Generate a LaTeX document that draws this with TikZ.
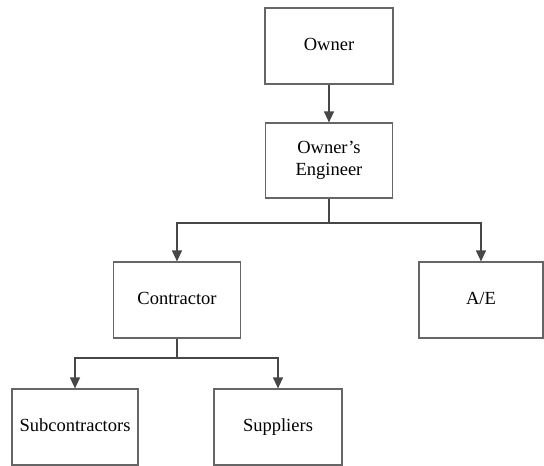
\documentclass[tikz,border=0pt]{standalone}
\usepackage{fontspec}
\setmainfont{Liberation Serif}
\usetikzlibrary{arrows.meta}
\begin{document}
\begin{tikzpicture}[x=1pt,y=-1pt,
  orgbox/.style={draw=black!60, line width=1.2pt, fill=white, minimum width=127pt,
    minimum height=76pt, align=center, inner sep=2pt,
    font=\fontsize{18.5}{22}\selectfont},
  link/.style={draw=black!72, line width=1.2pt},
  linkarrow/.style={link, -{Triangle[length=11pt,width=10pt]}}]
  \useasboundingbox (0,0) rectangle (544,466);
  % boxes
  \node[orgbox, minimum width=128pt] (owner) at (329,46) {\strut Owner};
  \node[orgbox, minimum height=75pt] (oe) at (329,160.5) {\strut Owner’s\\\strut Engineer};
  \node[orgbox] (con) at (177,300) {\strut Contractor};
  \node[orgbox, minimum width=124pt] (ae) at (481,300) {\strut A/E};
  \node[orgbox, minimum width=126pt] (sub) at (75,427) {\strut Subcontractors};
  \node[orgbox, minimum width=128pt] (sup) at (278,427) {\strut Suppliers};
  % junction points
  \coordinate (j1) at (329,223);
  \coordinate (j2) at (177,358);
  % connectors
  \draw[linkarrow] (owner) -- (oe);
  \draw[link] (oe.south) -- (j1);
  \draw[linkarrow] (j1) -| (con.north);
  \draw[linkarrow] (j1) -| (ae.north);
  \draw[link] (con.south) -- (j2);
  \draw[linkarrow] (j2) -| (sub.north);
  \draw[linkarrow] (j2) -| (sup.north);
\end{tikzpicture}
\end{document}
